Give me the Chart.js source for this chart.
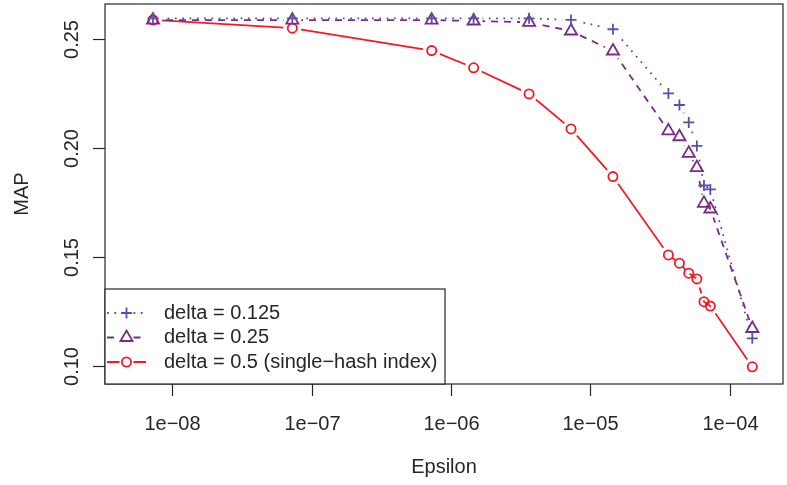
<!DOCTYPE html>
<html>
<head>
<meta charset="utf-8">
<title>MAP vs Epsilon</title>
<script src="https://cdn.jsdelivr.net/npm/chart.js@4/dist/chart.umd.min.js"></script>
<style>
  html, body { margin: 0; padding: 0; background: #fff; }
  #wrap { width: 787px; height: 485px; }
</style>
</head>
<body>
<div id="wrap"><canvas id="mapChart" width="787" height="485"></canvas></div>
<script>
// values
const epsilon = [7.27e-9, 7.27e-8, 7.27e-7, 1.454e-6, 3.635e-6, 7.27e-6, 1.454e-5,
  3.635e-5, 4.362e-5, 5.089e-5, 5.816e-5, 6.543e-5, 7.27e-5, 1.454e-4];
const mapDelta0125 = [0.2596, 0.2596, 0.2596, 0.2596, 0.2596, 0.2589, 0.2546,
  0.2251, 0.2198, 0.2118, 0.2010, 0.1828, 0.1810, 0.1126];
const mapDelta025 = [0.2588, 0.2588, 0.2588, 0.2584, 0.2578, 0.2538, 0.2446,
  0.2079, 0.2052, 0.1976, 0.1910, 0.1746, 0.1720, 0.1171];
const mapDelta05 = [0.2589, 0.2551, 0.2448, 0.2369, 0.2249, 0.2088, 0.1869,
  0.1509, 0.1471, 0.1425, 0.1399, 0.1294, 0.1274, 0.0995];
const seriesLabels = ["delta = 0.125", "delta = 0.25", "delta = 0.5 (single\u2212hash index)"];
const xTickValues = [1e-8, 1e-7, 1e-6, 1e-5, 1e-4];
const xTickLabels = ["1e\u221208", "1e\u221207", "1e\u221206", "1e\u221205", "1e\u221204"];
const yTickValues = [0.10, 0.15, 0.20, 0.25];
const yTickLabels = ["0.10", "0.15", "0.20", "0.25"];

const FONT = '20px "Liberation Sans", Arial, Helvetica, sans-serif';
const INK = "#262626";
const series = [
  { label: seriesLabels[0], values: mapDelta0125, color: "#5a50ac", dash: [1.8, 5.5], style: "cross", radius: 5.5 },
  { label: seriesLabels[1], values: mapDelta025, color: "#7a2a88", dash: [7, 6], style: "triangle", radius: 7 },
  { label: seriesLabels[2], values: mapDelta05, color: "#ee1c25", dash: [], style: "circle", radius: 4.6 },
];

const toPoints = (vals) => epsilon.map((x, i) => ({ x: x, y: vals[i] }));

// markers first so they sit on top, then the lines (with gaps round the points, like type="b")
const datasets = [];
series.forEach((s) => {
  datasets.push({
    label: s.label,
    data: toPoints(s.values),
    showLine: false,
    pointStyle: s.style,
    pointRadius: s.radius,
    pointBorderColor: s.color,
    pointBackgroundColor: "rgba(0,0,0,0)",
    pointBorderWidth: 1.8,
  });
});
series.forEach((s) => {
  datasets.push({
    label: s.label + " line",
    data: toPoints(s.values),
    showLine: true,
    borderColor: s.color,
    borderWidth: 1.8,
    borderDash: s.dash,
    pointRadius: 0,
    tension: 0,
    gap: 9,
  });
});

const rStyle = {
  id: "rStyle",
  beforeDatasetDraw(chart, args) {
    const ds = chart.data.datasets[args.index];
    if (!ds.gap) return;
    const ctx = chart.ctx;
    ctx.save();
    ctx.beginPath();
    ctx.rect(0, 0, chart.width, chart.height);
    args.meta.data.forEach((p) => {
      ctx.moveTo(p.x + ds.gap, p.y);
      ctx.arc(p.x, p.y, ds.gap, 0, Math.PI * 2);
    });
    ctx.clip("evenodd");
  },
  afterDatasetDraw(chart, args) {
    if (chart.data.datasets[args.index].gap) chart.ctx.restore();
  },
  afterDraw(chart) {
    const ctx = chart.ctx;
    const a = chart.chartArea;
    const xs = chart.scales.x;
    const ys = chart.scales.y;
    ctx.save();
    ctx.strokeStyle = INK;
    ctx.fillStyle = INK;
    ctx.lineWidth = 1.2;
    ctx.font = FONT;

    // box
    ctx.strokeRect(a.left, a.top, a.right - a.left, a.bottom - a.top);

    // x axis
    ctx.textAlign = "center";
    ctx.textBaseline = "middle";
    xTickValues.forEach((v, i) => {
      const px = Math.round(xs.getPixelForValue(v)) + 0.5;
      ctx.beginPath();
      ctx.moveTo(px, a.bottom);
      ctx.lineTo(px, a.bottom + 12);
      ctx.stroke();
      ctx.fillText(xTickLabels[i], px, 424);
    });
    ctx.fillText("Epsilon", (a.left + a.right) / 2, 467);

    // y axis
    yTickValues.forEach((v, i) => {
      const py = Math.round(ys.getPixelForValue(v)) + 0.5;
      ctx.beginPath();
      ctx.moveTo(a.left - 12, py);
      ctx.lineTo(a.left, py);
      ctx.stroke();
      ctx.save();
      ctx.translate(72, py);
      ctx.rotate(-Math.PI / 2);
      ctx.fillText(yTickLabels[i], 0, 0);
      ctx.restore();
    });
    ctx.save();
    ctx.translate(22, (a.top + a.bottom) / 2);
    ctx.rotate(-Math.PI / 2);
    ctx.fillText("MAP", 0, 0);
    ctx.restore();

    // legend, bottom left
    const lx = a.left, ly = 289, lw = 340, lh = a.bottom - 289;
    ctx.fillStyle = "#fff";
    ctx.fillRect(lx, ly, lw, lh);
    ctx.strokeRect(lx, ly, lw, lh);
    const rowY = [313, 337.5, 362];
    series.forEach((s, i) => {
      const y = rowY[i];
      const mx = 126.5;
      ctx.save();
      ctx.strokeStyle = s.color;
      ctx.lineWidth = 1.8;
      ctx.setLineDash(s.dash);
      ctx.beginPath();
      ctx.moveTo(107, y);
      ctx.lineTo(mx - 7, y);
      ctx.moveTo(mx + 7, y);
      ctx.lineTo(146, y);
      ctx.stroke();
      ctx.setLineDash([]);
      ctx.fillStyle = "rgba(0,0,0,0)";
      Chart.helpers.drawPoint(ctx, { pointStyle: s.style, radius: s.radius, rotation: 0, borderWidth: 1.8 }, mx, y);
      ctx.restore();
      ctx.fillStyle = INK;
      ctx.textAlign = "left";
      ctx.fillText(s.label, 164, y);
    });
    ctx.restore();
  },
};

new Chart(document.getElementById("mapChart").getContext("2d"), {
  type: "line",
  data: { datasets: datasets },
  options: {
    responsive: false,
    animation: false,
    layout: { autoPadding: false, padding: { left: 105, top: 4, right: 4, bottom: 101 } },
    scales: {
      x: { type: "logarithmic", min: Math.pow(10, -8.483), max: Math.pow(10, -3.617), display: false },
      y: { type: "linear", min: 0.0916, max: 0.2662, display: false },
    },
    plugins: {
      legend: { display: false },
      tooltip: { enabled: false },
    },
  },
  plugins: [rStyle],
});
</script>
</body>
</html>
